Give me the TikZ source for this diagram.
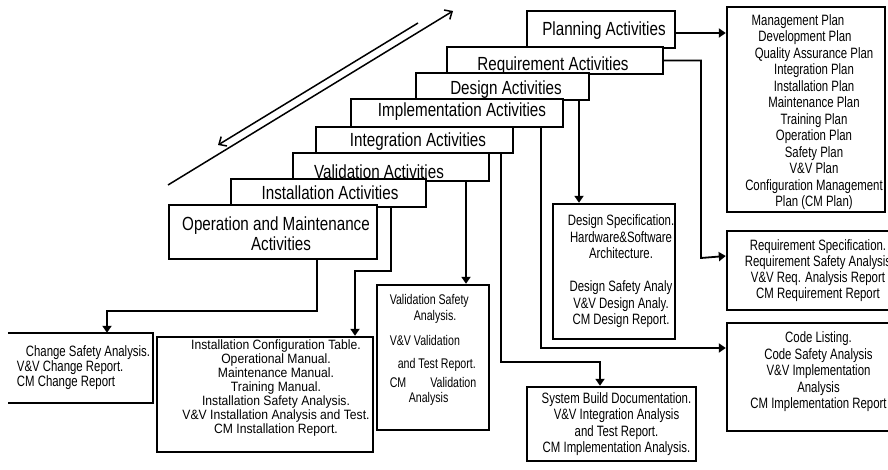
\documentclass[tikz,border=0pt]{standalone}
\usepackage{fontspec}
\setmainfont{Liberation Sans}[FakeStretch=0.8]
\newfontfamily\docfont{Liberation Sans}[FakeStretch=0.76]
\newfontfamily\widefont{Liberation Sans}[FakeStretch=0.9]
\usetikzlibrary{arrows.meta}

\tikzset{
  stair/.style={draw, fill=white, line width=2.4pt, inner sep=0pt},
  docbox/.style={draw, line width=2.4pt, inner sep=0pt},
  stairtext/.style={font=\fontsize{19}{20}\selectfont, inner sep=0pt, align=center},
  doctext/.style={font=\docfont\fontsize{15}{16.5}\selectfont, inner sep=0pt, align=center},
  link/.style={line width=1.8pt, -{Triangle[length=7pt,width=9pt]}},
  flow/.style={line width=1.5pt, -{Straight Barb[length=6pt,width=11pt]}}
}

\begin{document}
\begin{tikzpicture}[x=1pt, y=-1pt]
  \useasboundingbox (0,0) rectangle (888,470);
  \clip (0,0) rectangle (888,470);
  % direction arrows
  \coordinate (downA) at (418,23);
  \coordinate (downB) at (218,145);
  \coordinate (upA) at (168,185);
  \coordinate (upB) at (453,11);
  \draw[flow] (downA) -- (downB);
  \draw[flow] (upA) -- (upB);
  % activity stairs
  \node[stair, minimum width=148, minimum height=37,
    label={[stairtext,xshift=3pt,yshift=-1pt]center:Planning Activities}] (plan) at (601,29.5) {};
  \node[stair, minimum width=216, minimum height=27,
    label={[stairtext,xshift=-2pt,yshift=-5pt]center:Requirement Activities}] (req) at (555,60.5) {};
  \node[stair, minimum width=173, minimum height=27,
    label={[stairtext,xshift=3.5pt,yshift=-3.5pt]center:Design Activities}] (des) at (502.5,86.5) {};
  \node[stair, minimum width=212, minimum height=28,
    label={[stairtext,xshift=5pt,yshift=1pt]center:Implementation Activities}] (impl) at (457,113) {};
  \node[stair, minimum width=197, minimum height=26,
    label={[stairtext,xshift=3.5pt,yshift=-2pt]center:Integration Activities}] (integ) at (414.5,140) {};
  \node[stair, minimum width=196, minimum height=28,
    label={[stairtext,xshift=-12pt,yshift=-5pt]center:Validation Activities}] (val) at (391,167) {};
  \node[stair, minimum width=195, minimum height=28,
    label={[stairtext,xshift=1.5pt,yshift=0pt]center:Installation Activities}] (inst) at (328.5,193) {};
  \node[stair, minimum width=208, minimum height=54,
    label={[stairtext,xshift=3pt,yshift=-2pt]center:{Operation and Maintenance\\\kern10pt Activities}}] (op) at (273,232) {};
  % documents
  \node[docbox, minimum width=158, minimum height=205,
    label={[doctext,xshift=8pt,yshift=-2.5pt]center:{Management Plan\kern32pt\\Development Plan\kern18pt\\Quality Assurance Plan\\Integration Plan\\Installation Plan\\Maintenance Plan\\Training Plan\\Operation Plan\\Safety Plan\\V\&V Plan\\Configuration Management\\Plan (CM Plan)}}] (mgmt) at (806,109.5) {};
  \node[docbox, minimum width=173, minimum height=79,
    label={[doctext,font=\docfont\fontsize{15}{16}\selectfont,xshift=4.5pt]center:{Requirement Specification.\\Requirement Safety Analysis\\V\&V Req. Analysis Report\\CM Requirement Report}}] (reqs) at (813.5,270.5) {};
  \node[docbox, minimum width=173, minimum height=108,
    label={[doctext,xshift=5pt,yshift=5pt]center:{Code Listing.\\Code Safety Analysis\\V\&V Implementation\\Analysis\\CM Implementation Report}}] (code) at (813.5,377) {};
  \node[docbox, minimum width=122, minimum height=135,
    label={[doctext,xshift=7pt]center:{Design Specification.\\Hardware\&Software\\Architecture.\\[16.5pt]Design Safety Analy\\V\&V Design Analy.\\CM Design Report.}}] (dspec) at (614,271.5) {};
  \node[docbox, minimum width=112, minimum height=145,
    label={[doctext,font=\docfont\fontsize{14}{16}\selectfont,align=left,yshift=8pt]center:{Validation Safety\\\kern24pt Analysis.\\[9pt]V\&V Validation\\[7pt]\kern8pt and Test Report.\\[3pt]CM\kern24pt Validation\\[-1pt]\kern19pt Analysis}}] (vsafe) at (433,357.5) {};
  \node[docbox, minimum width=169, minimum height=74,
    label={[doctext,xshift=5pt]center:{System Build Documentation.\\V\&V Integration Analysis\\and Test Report.\\CM Implementation Analysis.}}] (sysb) at (611.5,424) {};
  \node[docbox, minimum width=216, minimum height=115,
    label={[doctext,font=\widefont\fontsize{13.5}{14}\selectfont,xshift=11pt,yshift=6.5pt]center:{Installation Configuration Table.\\Operational Manual.\\Maintenance Manual.\\Training Manual.\\Installation Safety Analysis.\\V\&V Installation Analysis and Test.\\CM Installation Report.}}] (icfg) at (265,394.5) {};
  \node[inner sep=0pt, minimum width=145, minimum height=70,
    label={[doctext,font=\docfont\fontsize{15}{15}\selectfont,align=left,xshift=3pt]center:{\kern9pt Change Safety Analysis.\\V\&V Change Report.\\CM Change Report}}] (chg) at (80.5,368) {};
  \draw[line width=2.4pt] (chg.north west) -- (chg.north east) -- (chg.south east) -- (chg.south west);
  % connectors
  \draw[link] (plan.east |- 0,33) -- (mgmt.west |- 0,33);
  \draw[link] (req.east) -| (701,258) -- (reqs.west |- 0,256);
  \draw[link] (des.south -| 579,0) -- (dspec.north -| 579,0);
  \draw[link] (impl.south -| 541,0) |- (code.west |- 0,348);
  \draw[link] (integ.south -| 501,0) |- (600,362) -- (sysb.north -| 600,0);
  \draw[link] (val.south -| 466,0) -- (vsafe.north -| 466,0);
  \draw[link] (inst.south -| 391,0) |- (355,271) -- (icfg.north -| 355,0);
  \draw[link] (op.south -| 317,0) |- (107,311) -- (chg.north -| 107,0);
\end{tikzpicture}
\end{document}
